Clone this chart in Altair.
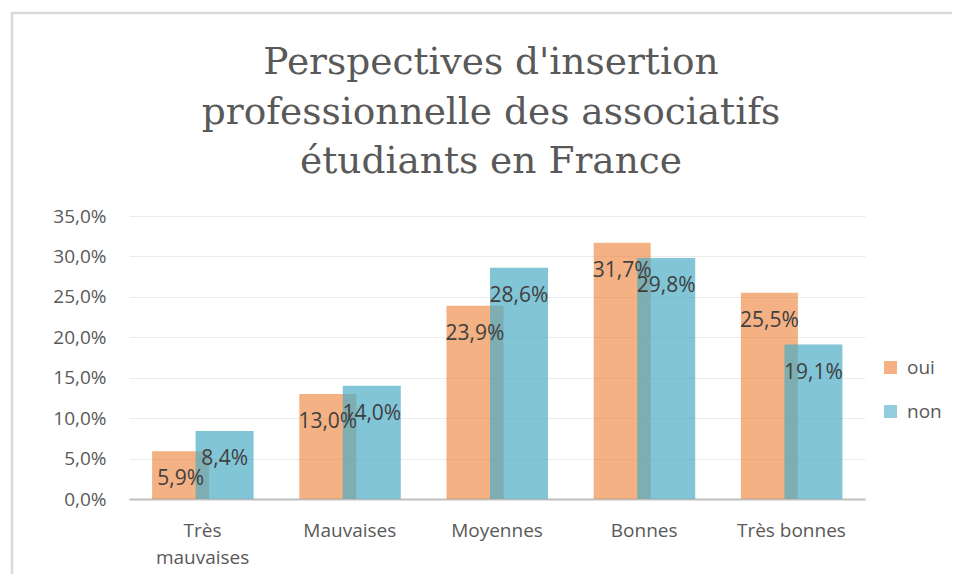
import altair as alt
import pandas as pd

categories = ["Très mauvaises", "Mauvaises", "Moyennes", "Bonnes", "Très bonnes"]
oui = [5.9, 13.0, 23.9, 31.7, 25.5]
non = [8.4, 14.0, 28.6, 29.8, 19.1]
series = ["oui", "non"]
y_ticks = [0, 5, 10, 15, 20, 25, 30, 35]
title_lines = ["Perspectives d'insertion", "professionnelle des associatifs", "étudiants en France"]

rows = []
for c, v in zip(categories, oui):
    rows.append({"cat": c, "serie": "oui", "val": v})
for c, v in zip(categories, non):
    rows.append({"cat": c, "serie": "non", "val": v})
df = pd.DataFrame(rows)

ORANGE = "#ED7D31"
BLUE = "#4BACC6"
SANS = "Open Sans"

x_enc = alt.X(
    "cat:N",
    sort=categories,
    scale=alt.Scale(domain=categories, paddingInner=0, paddingOuter=0),
    axis=alt.Axis(
        title=None, labelAngle=0, ticks=False, domain=True,
        domainColor="#BFBFBF", domainWidth=2,
        labelFont=SANS, labelFontSize=19, labelColor="#595959",
        labelPadding=22, labelLineHeight=27,
        labelExpr="datum.value == 'Très mauvaises' ? split(datum.value, ' ') : datum.value",
    ),
)
y_enc = alt.Y(
    "val:Q",
    scale=alt.Scale(domain=[0, 35], nice=False),
    axis=alt.Axis(
        title=None, values=y_ticks, domain=False, ticks=False,
        grid=True, gridColor="#EBEBEB", gridWidth=1,
        labelFont=SANS, labelFontSize=19, labelColor="#595959", labelPadding=23,
        labelExpr="replace(format(datum.value, '.1f'), '.', ',') + '%'",
    ),
)
color_enc = alt.Color(
    "serie:N",
    scale=alt.Scale(domain=series, range=[ORANGE, BLUE]),
    legend=alt.Legend(
        title=None, orient="none", legendX=752, legendY=142,
        symbolType="square", symbolSize=170, symbolOpacity=0.6,
        symbolStrokeWidth=0,
        labelFont=SANS, labelFontSize=19, labelColor="#595959",
        rowPadding=24, labelOffset=7,
    ),
)

base = alt.Chart(df)

bars_oui = base.transform_filter(alt.datum.serie == "oui").mark_bar(
    size=57, xOffset=-22, opacity=0.6
).encode(x=x_enc, y=y_enc, color=color_enc)

bars_non = base.transform_filter(alt.datum.serie == "non").mark_bar(
    size=58, xOffset=22, opacity=0.7
).encode(x=x_enc, y=y_enc, color=color_enc)

label_expr = "replace(format(datum.val, '.1f'), '.', ',') + '%'"

text_oui = base.transform_filter(alt.datum.serie == "oui").transform_calculate(
    lab=label_expr
).mark_text(
    xOffset=-22, dy=28, baseline="middle", align="center",
    font=SANS, fontSize=21, color="#404040"
).encode(x=x_enc, y=y_enc, text="lab:N")

text_non = base.transform_filter(alt.datum.serie == "non").transform_calculate(
    lab=label_expr
).mark_text(
    xOffset=22, dy=28, baseline="middle", align="center",
    font=SANS, fontSize=21, color="#404040"
).encode(x=x_enc, y=y_enc, text="lab:N")

border = alt.Chart(alt.Data(values=[{}])).mark_rect(
    fill=None, stroke="#D9D9D9", strokeWidth=2.5
).encode(
    x=alt.value(-117), y=alt.value(-203), x2=alt.value(900), y2=alt.value(500)
)

title = alt.Chart(alt.Data(values=[{}])).mark_text(
    font="DejaVu Serif", fontSize=37.5, color="#595959",
    align="center", baseline="alphabetic", lineHeight=49.5,
).encode(
    x=alt.value(362), y=alt.value(-142), text=alt.value(title_lines)
)

chart = alt.layer(border, title, bars_oui, bars_non, text_oui, text_non).properties(
    width=736, height=283,
    padding={"left": 121, "top": 208, "right": 87, "bottom": 75},
    autosize=alt.AutoSizeParams(type="none"),
).configure_view(stroke=None)

chart.save("out.html", embed_options={"renderer": "svg", "actions": False})
